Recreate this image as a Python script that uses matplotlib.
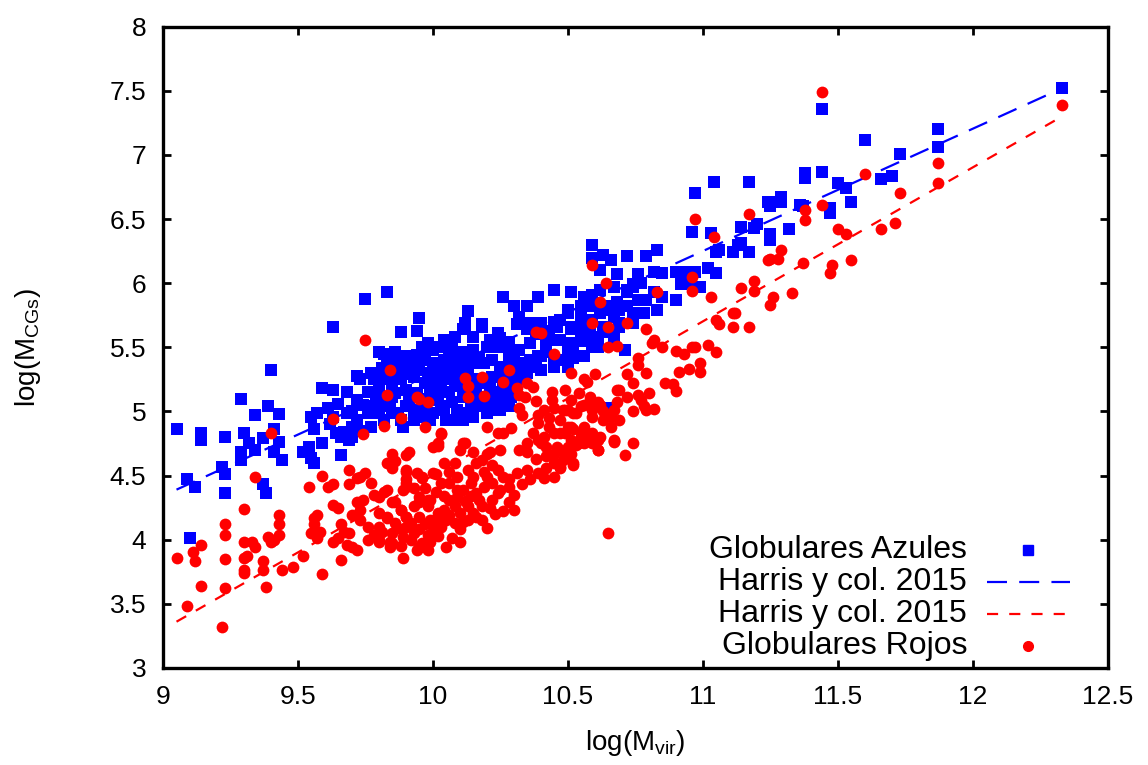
import matplotlib
matplotlib.use("Agg")
import matplotlib.pyplot as plt
import numpy as np

plt.rcParams["font.family"] = ["Liberation Sans", "DejaVu Sans"]

# Globulares Azules: (log Mvir, log M_CGs)
blue_pts = [
    (9.83, 5.93), (9.75, 5.88), (9.63, 5.66), (9.95, 5.73), (9.88, 5.62), (9.94, 5.63), (9.40, 5.32),
    (9.98, 5.53), (9.82, 5.45), (9.72, 5.28), (9.59, 5.18), (9.63, 5.17), (9.29, 5.10), (9.39, 5.04),
    (9.34, 4.97), (9.43, 4.98), (9.05, 4.86), (9.14, 4.83), (9.14, 4.78), (9.23, 4.80), (9.30, 4.83),
    (9.32, 4.75), (9.34, 4.70), (9.37, 4.79), (9.41, 4.86), (9.43, 4.76), (9.41, 4.68), (9.44, 4.62),
    (9.29, 4.68), (9.29, 4.62), (9.22, 4.57), (9.23, 4.51), (9.09, 4.47), (9.52, 4.68), (9.55, 4.64),
    (9.56, 4.60), (9.66, 4.66), (9.54, 4.72), (9.56, 4.86), (9.59, 4.75), (9.55, 4.96), (9.57, 4.99),
    (9.61, 5.03), (9.66, 4.80), (9.69, 4.78), (9.70, 4.80), (9.67, 4.84), (9.77, 4.88), (9.72, 4.93),
    (9.73, 5.25), (9.68, 5.15), (9.78, 5.25), (9.85, 5.40), (9.87, 5.32), (9.90, 5.35), (9.93, 5.38),
    (9.96, 5.48), (10.00, 5.38), (10.00, 5.25), (9.90, 5.17), (9.85, 5.19), (9.80, 5.19), (9.76, 5.15),
    (9.78, 5.04), (9.84, 5.04), (9.90, 5.04), (9.96, 5.04), (9.99, 4.96), (9.93, 4.93), (9.89, 4.88),
    (9.85, 4.99), (9.80, 4.99), (9.76, 4.99), (9.72, 5.09), (9.68, 4.99), (9.63, 4.96),
    (9.12, 4.41), (9.23, 4.36), (9.37, 4.43), (9.38, 4.36), (9.10, 4.01),
    (10.13, 5.78), (10.12, 5.69), (10.12, 5.66), (10.18, 5.66), (10.24, 5.61), (10.26, 5.89),
    (10.39, 5.89), (10.45, 5.95), (10.51, 5.93), (10.30, 5.82), (10.35, 5.82), (10.32, 5.74),
    (10.36, 5.69), (10.31, 5.68), (10.45, 5.70), (10.50, 5.77), (10.55, 5.79), (10.56, 5.89),
    (10.59, 5.89), (10.62, 5.95), (10.67, 5.97), (10.72, 5.95), (10.74, 5.99), (10.55, 5.64),
    (10.59, 5.58), (10.52, 5.50), (10.47, 5.56), (10.42, 5.58), (10.61, 5.50), (10.67, 5.74),
    (10.69, 5.69), (10.74, 5.69), (10.67, 5.58), (10.71, 5.48), (10.52, 5.42), (10.45, 5.40),
    (10.39, 5.43), (10.37, 5.35), (10.32, 5.48), (10.35, 5.38),
    (9.80, 5.46), (9.83, 5.40), (9.88, 5.38), (9.93, 5.40), (9.96, 5.50), (10.02, 5.50), (10.06, 5.35),
    (10.10, 5.46), (10.15, 5.46), (10.20, 5.50), (10.22, 5.40), (10.28, 5.40), (10.30, 5.46),
    (9.83, 5.30), (9.88, 5.25), (9.93, 5.27), (9.98, 5.30), (10.02, 5.25), (10.05, 5.27), (10.09, 5.25),
    (10.13, 5.32), (10.18, 5.38), (10.22, 5.27), (10.28, 5.25), (10.31, 5.32), (10.35, 5.30),
    (9.80, 5.17), (9.85, 5.11), (9.90, 5.17), (9.99, 5.15), (10.03, 5.17), (10.06, 5.15), (10.11, 5.15),
    (10.15, 5.17), (10.20, 5.11), (10.24, 5.15), (10.28, 5.17), (10.22, 5.07), (10.18, 5.04),
    (9.80, 5.01), (9.87, 4.99), (9.93, 5.01), (9.96, 5.04), (10.00, 4.99), (10.05, 4.93), (10.10, 4.93),
    (10.15, 5.01), (10.13, 4.99), (10.24, 5.01),
    (11.25, 6.63), (11.29, 6.63), (11.36, 6.61), (10.96, 6.40), (11.03, 6.39), (11.14, 6.44),
    (11.19, 6.43), (11.20, 6.46), (11.25, 6.38), (11.25, 6.34), (11.32, 6.42), (11.13, 6.30),
    (11.11, 6.24), (11.17, 6.24), (11.06, 6.26), (11.05, 6.24),
    (10.59, 6.30), (10.63, 6.22), (10.66, 6.18), (10.72, 6.21), (10.79, 6.21), (10.83, 6.26), (10.59, 6.20),
    (10.62, 6.10), (10.68, 6.07), (10.76, 6.07), (10.82, 6.09), (10.85, 6.08), (10.90, 6.09),
    (10.94, 6.09), (10.97, 6.09), (11.02, 6.12), (11.05, 6.08), (10.77, 6.00), (10.82, 5.93),
    (10.85, 5.89), (10.90, 5.87), (10.92, 5.99), (10.99, 5.97), (10.95, 6.00),
    (10.51, 5.93), (10.57, 5.89), (10.59, 5.91), (10.50, 5.79), (10.55, 5.82), (10.59, 5.82),
    (10.65, 5.82), (10.68, 5.85), (10.72, 5.82), (10.76, 5.87), (10.79, 5.87), (10.83, 5.79),
    (10.78, 5.77), (10.72, 5.93), (10.74, 5.97),
    (10.47, 5.71), (10.51, 5.66), (10.55, 5.74), (10.59, 5.71), (10.63, 5.66), (10.67, 5.58),
    (10.69, 5.66), (10.62, 5.77), (10.69, 5.79), (10.66, 5.79), (10.74, 5.77),
    (10.47, 5.56), (10.51, 5.53), (10.52, 5.43), (10.48, 5.40), (10.61, 5.50), (10.67, 5.57), (10.71, 5.48),
    (12.33, 7.52), (11.44, 7.36), (11.87, 7.20), (11.87, 7.06), (11.60, 7.12), (11.73, 7.01),
    (11.70, 6.84), (11.66, 6.81), (11.38, 6.86), (11.38, 6.82), (11.44, 6.87), (11.50, 6.78),
    (11.53, 6.74), (11.55, 6.63), (11.47, 6.59), (11.47, 6.55), (11.37, 6.60), (11.24, 6.63),
    (11.25, 6.60), (11.28, 6.63), (11.29, 6.67), (11.17, 6.79), (11.14, 6.31),
    (10.97, 6.70), (11.04, 6.79),
    (10.12, 5.68), (10.18, 5.68), (10.25, 5.57), (10.32, 5.69), (10.35, 5.64), (10.40, 5.69),
    (10.46, 5.66), (10.51, 5.64), (10.57, 5.69), (10.61, 5.58), (10.46, 5.56), (10.42, 5.50),
    (10.36, 5.53), (10.31, 5.48), (10.28, 5.46), (10.24, 5.50), (10.15, 5.48), (10.11, 5.46),
    (10.06, 5.46), (10.04, 5.40), (10.02, 5.35), (10.00, 5.27), (10.04, 5.25), (10.06, 5.30),
    (10.09, 5.35), (10.14, 5.38), (10.19, 5.38), (10.28, 5.43), (10.32, 5.38), (10.36, 5.40),
    (10.40, 5.43), (10.47, 5.40), (10.56, 5.43), (10.59, 5.50), (10.50, 5.35), (10.45, 5.35),
    (10.40, 5.32), (10.30, 5.30), (10.24, 5.27), (10.21, 5.19), (10.16, 5.17), (10.11, 5.11),
    (10.02, 5.09), (10.04, 5.01), (10.09, 5.01), (10.14, 5.04), (10.20, 5.07), (10.25, 5.09),
    (10.29, 5.11), (10.06, 4.93), (10.11, 4.93), (10.15, 4.96), (10.20, 4.99), (10.25, 5.01),
    (10.28, 5.04), (10.30, 5.19), (10.32, 5.25), (9.99, 4.93), (10.11, 5.64), (10.04, 5.56),
    (10.00, 5.48), (10.65, 5.03),
    (9.97, 5.22), (10.01, 5.20), (10.08, 5.20), (10.12, 5.22), (10.16, 5.25), (10.20, 5.22),
    (10.26, 5.21), (10.08, 5.40), (10.12, 5.41), (10.17, 5.42), (10.25, 5.35), (10.27, 5.31),
    (10.33, 5.34), (9.97, 5.10), (10.03, 5.04), (10.07, 5.07), (10.16, 5.09), (10.26, 5.13),
    (10.34, 5.26), (10.38, 5.39), (10.42, 5.46), (10.50, 5.47), (10.55, 5.55), (10.58, 5.62),
    (10.64, 5.62), (10.43, 5.63), (10.38, 5.60), (10.28, 5.54), (10.21, 5.56), (10.15, 5.58),
    (10.08, 5.58), (10.07, 5.52),
    (9.62, 4.90), (9.65, 5.06), (9.70, 5.00), (9.74, 5.05), (9.79, 5.10), (9.82, 5.08), (9.86, 5.14),
    (9.91, 5.10), (9.94, 5.14), (9.88, 4.93), (9.82, 4.93), (9.95, 4.96), (9.70, 4.88), (9.74, 4.85),
    (9.64, 4.83),
    (9.82, 5.25), (9.86, 5.28), (9.91, 5.29), (9.95, 5.32), (9.90, 5.43), (9.94, 5.44), (9.97, 5.40),
    (9.86, 5.46), (9.81, 5.34), (9.77, 5.30),
]

# Globulares Rojos: (log Mvir, log M_CGs)
red_pts = [
    (9.75, 5.56), (9.84, 5.32), (9.83, 5.13), (9.94, 5.11), (9.95, 5.10), (9.98, 5.07), (9.63, 4.94),
    (9.88, 4.95), (9.82, 4.89), (9.97, 4.88), (9.40, 4.83), (9.74, 4.82), (10.03, 4.83), (10.02, 4.73),
    (9.85, 4.67), (9.90, 4.66), (9.91, 4.68), (9.86, 4.61), (9.83, 4.60), (9.85, 4.56), (9.69, 4.54),
    (9.90, 4.54), (9.94, 4.52), (9.96, 4.49), (10.01, 4.51), (9.34, 4.49), (9.59, 4.50), (9.73, 4.49),
    (9.75, 4.52),
    (9.54, 4.41), (9.61, 4.41), (9.63, 4.43), (9.69, 4.43), (9.72, 4.48), (9.77, 4.44), (9.90, 4.44),
    (9.93, 4.40), (9.89, 4.39), (9.82, 4.37), (9.86, 4.29), (9.78, 4.35), (9.74, 4.31), (9.72, 4.29),
    (9.73, 4.23), (9.70, 4.19), (9.63, 4.27), (9.65, 4.25), (9.30, 4.24), (9.43, 4.19), (9.57, 4.19),
    (9.56, 4.17), (9.23, 4.12), (9.43, 4.12), (9.23, 4.04), (9.39, 4.02), (9.41, 4.00), (9.43, 4.04),
    (9.40, 3.98), (9.55, 4.05), (9.56, 4.12), (9.57, 4.01), (9.58, 4.06), (9.63, 3.98), (9.65, 4.01),
    (9.66, 4.12), (9.67, 4.06), (9.69, 4.05), (9.68, 3.96), (9.70, 3.94), (9.72, 4.19), (9.73, 4.15),
    (9.76, 4.10), (9.78, 4.04), (9.80, 4.10), (9.83, 4.17), (9.72, 3.92), (9.76, 4.00), (9.80, 3.98),
    (9.84, 3.94), (9.85, 3.97), (9.88, 4.23), (9.90, 4.18), (9.93, 4.26), (9.95, 4.29), (9.98, 4.31),
    (9.90, 4.10), (9.93, 4.05), (9.96, 3.97), (9.98, 4.04), (10.00, 4.10), (9.89, 3.86), (9.94, 3.92),
    (9.97, 3.94), (9.05, 3.86), (9.11, 3.90), (9.12, 3.83), (9.14, 3.96), (9.23, 3.85), (9.30, 3.98),
    (9.33, 3.98), (9.34, 3.94), (9.31, 3.87), (9.30, 3.86), (9.30, 3.76), (9.30, 3.74), (9.37, 3.83),
    (9.37, 3.76), (9.48, 3.79), (9.44, 3.76), (9.52, 3.87), (9.59, 3.73), (9.66, 3.84), (9.14, 3.64),
    (9.23, 3.62), (9.38, 3.63), (9.09, 3.48), (9.22, 3.32),
    (10.64, 6.00), (10.62, 5.85), (10.59, 5.69), (10.65, 5.66), (10.72, 5.69), (10.38, 5.62),
    (10.40, 5.61), (10.65, 5.50), (10.68, 5.51), (10.45, 5.45), (10.28, 5.32), (10.12, 5.26),
    (10.13, 5.20), (10.18, 5.27), (10.26, 5.23), (10.13, 5.11), (10.19, 5.12), (10.51, 5.30),
    (10.56, 5.25), (10.57, 5.23), (10.60, 5.29), (10.72, 5.29), (10.74, 5.22), (10.68, 5.17),
    (10.72, 5.11), (10.76, 5.42), (10.31, 5.18), (10.35, 5.22), (10.37, 5.19), (10.32, 5.13),
    (10.34, 5.11), (10.38, 5.08), (10.32, 5.03), (10.33, 4.97), (10.39, 4.97), (10.39, 4.91),
    (10.45, 5.03), (10.49, 5.01), (10.53, 4.99), (10.55, 5.04), (10.58, 5.11), (10.61, 5.07),
    (10.63, 5.00), (10.68, 5.07), (10.69, 4.93), (10.66, 4.88), (10.62, 4.80), (10.59, 4.75),
    (10.51, 4.88), (10.56, 4.88), (10.55, 4.80), (10.49, 4.83), (10.45, 4.83), (10.43, 4.88),
    (10.41, 4.80), (10.39, 4.78), (10.37, 4.83), (10.35, 4.75), (10.20, 4.88), (10.24, 4.83),
    (10.26, 4.83), (10.03, 4.82), (10.00, 4.72), (10.02, 4.75), (10.11, 4.75), (10.10, 4.70),
    (10.15, 4.68), (10.20, 4.67), (10.21, 4.68), (10.29, 4.87), (10.32, 4.70), (10.35, 4.68),
    (10.40, 4.75), (10.42, 4.72), (10.45, 4.67), (10.50, 4.72), (10.54, 4.75), (10.57, 4.78),
    (10.61, 4.70), (10.67, 4.78), (10.71, 4.66), (10.74, 4.75),
    (10.12, 4.75), (10.25, 4.70), (10.18, 4.62), (10.46, 4.72), (10.51, 4.67), (10.52, 4.60),
    (10.56, 4.75), (10.67, 4.76),
    (9.90, 4.53), (9.96, 4.48), (10.00, 4.52), (10.04, 4.60), (10.08, 4.60), (10.09, 4.49), (10.13, 4.54),
    (10.16, 4.60), (10.15, 4.49), (10.20, 4.49), (10.22, 4.58), (10.24, 4.54), (10.26, 4.49),
    (10.31, 4.52), (10.35, 4.54), (10.39, 4.52), (10.42, 4.56), (10.45, 4.60), (10.47, 4.56), (10.45, 4.49),
    (9.90, 4.47), (9.90, 4.41), (9.83, 4.39), (9.80, 4.33), (9.85, 4.29), (9.95, 4.33), (9.99, 4.31),
    (10.03, 4.44), (10.06, 4.31), (10.09, 4.39), (10.11, 4.39), (10.14, 4.44), (10.16, 4.36),
    (10.19, 4.41), (10.22, 4.44), (10.25, 4.39), (10.28, 4.41), (10.30, 4.35), (10.22, 4.31),
    (10.28, 4.29), (10.30, 4.23), (10.26, 4.22), (10.21, 4.25),
    (9.80, 4.21), (9.83, 4.18), (9.88, 4.23), (9.90, 4.18), (9.95, 4.18), (9.98, 4.26), (9.99, 4.15),
    (10.02, 4.21), (10.04, 4.23), (10.05, 4.15), (10.08, 4.26), (10.10, 4.21), (10.13, 4.26),
    (10.15, 4.21), (10.18, 4.15), (10.13, 4.15), (10.10, 4.08), (10.08, 4.13), (10.03, 4.10),
    (10.00, 4.05), (9.95, 4.08), (9.92, 4.00), (9.89, 4.02), (9.84, 3.98), (9.80, 4.00), (9.95, 3.94),
    (9.98, 3.92), (10.05, 3.94), (10.10, 3.98), (10.20, 4.09), (10.65, 4.05),
    (9.86, 4.13), (9.88, 4.08), (9.92, 4.13), (9.97, 4.12), (10.01, 4.16), (10.06, 4.19), (10.11, 4.14),
    (10.16, 4.18), (10.12, 4.30), (10.17, 4.31), (10.14, 4.34), (10.09, 4.33), (10.04, 4.34),
    (10.01, 4.37), (9.97, 4.40), (10.06, 4.44), (10.18, 4.26), (10.23, 4.20), (10.24, 4.36),
    (10.33, 4.43), (10.36, 4.47), (10.41, 4.48), (10.28, 4.47), (10.19, 4.53), (10.06, 4.53),
    (10.02, 4.03), (10.07, 4.01), (9.99, 3.98), (9.88, 3.95), (9.85, 4.05), (9.81, 4.06),
    (10.38, 4.63), (10.42, 4.65), (10.48, 4.62), (10.43, 4.95), (10.47, 4.93), (10.41, 5.01),
    (10.44, 5.09), (10.54, 5.14), (10.49, 5.17), (10.44, 5.15),
    (10.97, 6.50), (11.17, 6.54), (11.38, 6.57), (11.38, 6.49), (11.04, 6.36), (11.29, 6.26),
    (11.24, 6.18), (11.25, 6.19), (11.28, 6.19), (11.37, 6.16), (10.59, 6.14), (10.83, 5.93),
    (10.96, 6.05), (10.96, 5.94), (10.79, 5.64), (11.03, 5.89), (11.14, 5.96), (11.19, 6.02),
    (11.19, 5.94), (11.33, 5.92), (11.26, 5.89), (11.25, 5.83), (11.11, 5.77), (11.12, 5.77),
    (11.05, 5.71), (11.06, 5.68), (11.11, 5.66), (11.17, 5.66), (10.82, 5.56), (10.81, 5.53),
    (10.85, 5.50), (10.90, 5.47), (10.93, 5.45), (10.96, 5.50), (10.97, 5.50), (11.02, 5.52),
    (11.05, 5.46), (10.99, 5.38), (10.99, 5.31), (10.95, 5.33), (10.91, 5.31), (10.76, 5.36),
    (10.79, 5.30), (10.86, 5.22), (10.89, 5.21), (10.90, 5.16), (10.69, 5.17),
    (10.76, 5.13), (10.80, 5.14), (10.77, 5.09), (10.78, 5.04), (10.74, 5.00), (10.82, 5.02),
    (10.79, 5.01), (10.67, 5.01), (10.66, 4.96), (10.63, 4.93), (10.62, 5.05), (10.59, 5.01),
    (10.59, 4.96), (10.58, 5.09), (10.56, 5.05), (10.52, 4.99), (10.50, 5.01), (10.51, 5.09),
    (10.48, 5.01), (10.55, 4.83), (10.52, 4.86), (10.50, 4.88), (10.47, 4.83), (10.51, 4.78),
    (10.57, 4.80), (10.59, 4.83), (10.61, 4.78), (10.53, 4.74), (10.47, 4.70), (10.50, 4.66),
    (10.52, 4.58), (10.47, 4.57), (10.67, 4.77), (10.61, 4.70),
    (11.44, 7.49), (12.33, 7.39), (11.87, 6.94), (11.87, 6.78), (11.60, 6.85), (11.73, 6.70),
    (11.44, 6.61), (11.66, 6.42), (11.71, 6.47), (11.50, 6.42), (11.53, 6.38), (11.48, 6.14),
    (11.47, 6.08), (11.55, 6.18),
]

# Harris y col. 2015 relations (end points)
fit_x = [9.05, 12.33]
fit_blue_y = [4.39, 7.52]
fit_red_y = [3.36, 7.30]

legend_labels = ["Globulares Azules", "Harris y col. 2015", "Harris y col. 2015", "Globulares Rojos"]

BLUE = "#0000ff"
RED = "#ff0000"

blue = np.array(blue_pts)
red = np.array(red_pts)

fig = plt.figure(figsize=(11.48, 7.65), dpi=100)
ax = fig.add_axes([0.142, 0.127, 0.823, 0.838])

ax.plot(fit_x, fit_blue_y, color=BLUE, lw=1.6, dashes=(9, 5.5), zorder=2)
ax.plot(fit_x, fit_red_y, color=RED, lw=1.6, dashes=(5, 5), zorder=2)
ax.scatter(blue[:, 0], blue[:, 1], marker="s", s=64, color=BLUE, linewidths=0, zorder=3)
ax.scatter(red[:, 0], red[:, 1], marker="o", s=72, color=RED, linewidths=0, zorder=4)

ax.set_xlim(9, 12.5)
ax.set_ylim(3, 8)
xt = np.arange(9, 12.51, 0.5)
yt = np.arange(3, 8.01, 0.5)
ax.set_xticks(xt)
ax.set_yticks(yt)
ax.set_xticklabels([f"{v:g}" for v in xt])
ax.set_yticklabels([f"{v:g}" for v in yt])
ax.tick_params(direction="in", length=6, width=2, labelsize=19, top=True, right=True, pad=12)
for sp in ax.spines.values():
    sp.set_linewidth(2.4)

ax.set_xlabel("log(M$_{\\mathregular{vir}}$)", fontsize=20, labelpad=14)
ax.set_ylabel("log(M$_{\\mathregular{CGs}}$)", fontsize=20, labelpad=48)

# gnuplot-style key: right-aligned text with sample to its right
rows = [0.184, 0.134, 0.084, 0.034]
tx = 0.851
for label, yy in zip(legend_labels, rows):
    ax.text(tx, yy, label, transform=ax.transAxes, ha="right", va="center", fontsize=23)
ax.plot([0.915], [rows[0]], transform=ax.transAxes, marker="s", ms=7, color=BLUE, ls="none", clip_on=False)
ax.plot([0.872, 0.960], [rows[1]] * 2, transform=ax.transAxes, color=BLUE, lw=1.6, dashes=(9, 5.5))
ax.plot([0.872, 0.960], [rows[2]] * 2, transform=ax.transAxes, color=RED, lw=1.6, dashes=(5, 5))
ax.plot([0.915], [rows[3]], transform=ax.transAxes, marker="o", ms=7, color=RED, ls="none", clip_on=False)

fig.savefig("out.png", dpi=100)
